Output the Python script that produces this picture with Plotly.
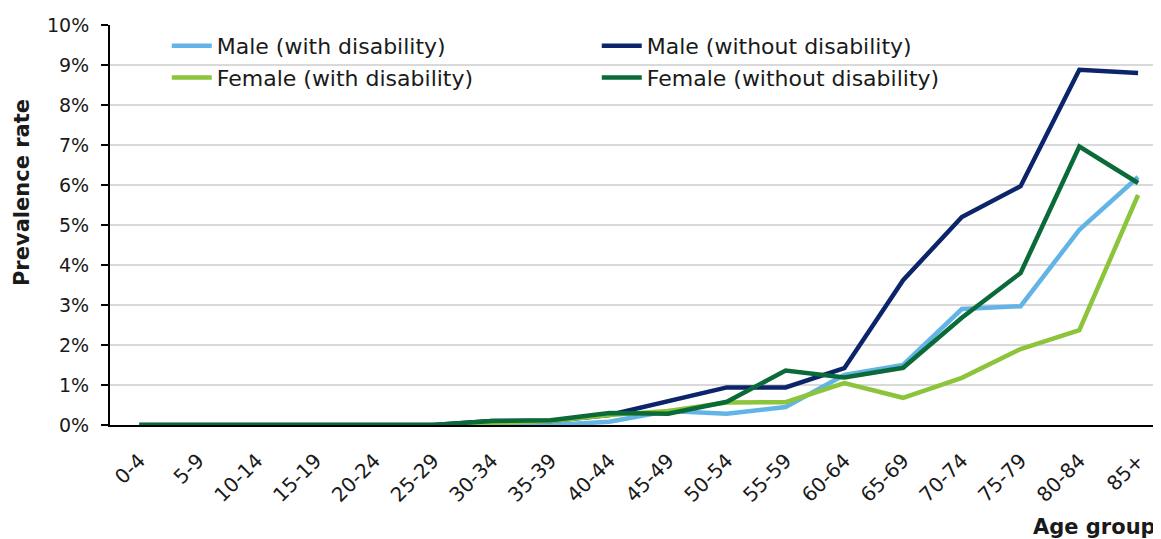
import plotly.graph_objects as go

age_groups = ["0-4", "5-9", "10-14", "15-19", "20-24", "25-29", "30-34", "35-39", "40-44",
              "45-49", "50-54", "55-59", "60-64", "65-69", "70-74", "75-79", "80-84", "85+"]

male_with = [0, 0, 0, 0, 0, 0, 0.0, 0.0, 0.08, 0.35, 0.28, 0.45, 1.25, 1.5, 2.9, 2.97, 4.88, 6.2]
male_without = [0, 0, 0, 0, 0, 0, 0.1, 0.1, 0.25, 0.6, 0.94, 0.94, 1.42, 3.62, 5.2, 5.97, 8.88, 8.8]
female_with = [0, 0, 0, 0, 0, 0, 0.05, 0.1, 0.25, 0.35, 0.56, 0.57, 1.05, 0.68, 1.18, 1.9, 2.37, 5.75]
female_without = [0, 0, 0, 0, 0, 0, 0.1, 0.12, 0.3, 0.28, 0.58, 1.36, 1.19, 1.43, 2.68, 3.8, 6.96, 6.05]

series = [
    ("Male (with disability)", male_with, "#63B4E6"),
    ("Male (without disability)", male_without, "#0C256A"),
    ("Female (with disability)", female_with, "#8CC43C"),
    ("Female (without disability)", female_without, "#0A6A38"),
]

FONT = "DejaVu Sans"

fig = go.Figure()
for name, vals, color in series:
    fig.add_trace(go.Scatter(
        x=list(range(len(age_groups))), y=[v / 100 for v in vals], name=name,
        mode="lines", line=dict(color=color, width=4.5),
    ))

# page body has an 8px margin, so the figure is sized/offset to compensate
fig.update_layout(
    width=1153, height=531,
    margin=dict(l=102, r=0, t=17, b=114),
    paper_bgcolor="white", plot_bgcolor="white",
    font=dict(family=FONT, color="#1a1a1a", size=19),
    legend=dict(
        orientation="h", x=0.054, y=1.0, xanchor="left", yanchor="top",
        entrywidth=375, entrywidthmode="pixels",
        font=dict(family=FONT, size=22, color="#1a1a1a"),
        bgcolor="rgba(0,0,0,0)", itemwidth=40,
    ),
    showlegend=True,
)

fig.update_xaxes(
    tickmode="array", tickvals=list(range(len(age_groups))), ticktext=age_groups,
    range=[-0.5, 17.39], tickangle=-45, showgrid=False, automargin=False,
    showline=True, linecolor="black", linewidth=2, ticks="",
    ticklabelstandoff=14,
    tickfont=dict(family=FONT, size=20), zeroline=False,
)
fig.update_yaxes(
    range=[0, 0.1], dtick=0.01, tickformat=".0%", automargin=False,
    showgrid=True, gridcolor="#D9D9D9", gridwidth=2,
    showline=True, linecolor="black", linewidth=2,
    ticks="outside", ticklen=7, tickwidth=2, tickcolor="black",
    ticklabelstandoff=8,
    tickfont=dict(family=FONT, size=19), zeroline=False,
)

fig.add_annotation(text="<b>Prevalence rate</b>", xref="paper", yref="paper",
                   x=-0.0837, y=0.58, xanchor="center", yanchor="middle", textangle=-90,
                   showarrow=False, font=dict(family=FONT, size=21, color="#1a1a1a"))
fig.add_annotation(text="<b>Age group</b>", xref="paper", yref="paper",
                   x=0.997, y=-0.255, xanchor="right", yanchor="middle", showarrow=False,
                   font=dict(family=FONT, size=21, color="#1a1a1a"))

fig.write_html("out.html")
